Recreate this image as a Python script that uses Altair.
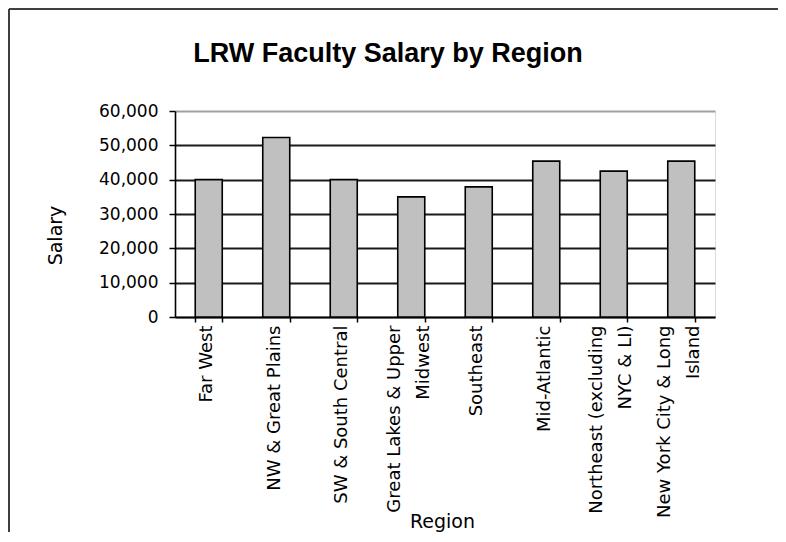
import altair as alt
import pandas as pd

regions = [
    "Far West",
    "NW & Great Plains",
    "SW & South Central",
    "Great Lakes & Upper\nMidwest",
    "Southeast",
    "Mid-Atlantic",
    "Northeast (excluding\nNYC & LI)",
    "New York City & Long\nIsland",
]
salaries = [40000, 52300, 40000, 35000, 37900, 45400, 42500, 45400]
y_ticks = [0, 10000, 20000, 30000, 40000, 50000, 60000]

df = pd.DataFrame({"Region": regions, "Salary": salaries})

W, H = 540, 206
PAD = {"left": 167, "top": 103, "right": 63, "bottom": 215}
FONT = "DejaVu Sans"

bars = alt.Chart(df).mark_bar(color="#C0C0C0", stroke="black", strokeWidth=1.6).encode(
    x=alt.X(
        "Region:N",
        sort=regions,
        scale=alt.Scale(paddingInner=0.6, paddingOuter=0.3),
        axis=alt.Axis(
            title="Region",
            labelAngle=270,
            labelExpr="split(datum.label, '\\n')",
            labelLineHeight=29,
            labelFont=FONT,
            labelFontSize=18,
            labelColor="black",
            labelLimit=400,
            labelPadding=3,
            labelOffset={"condition": {"test": "indexof(datum.label, '\\n') >= 0", "value": -17}, "value": -2},
            tickBand="extent",
            tickSize=5,
            tickColor="black",
            tickWidth=1.5,
            domainColor="black",
            domainWidth=1.6,
            grid=False,
            titleFont=FONT,
            titleFontSize=19,
            titleFontWeight="normal",
            titleColor="black",
            titleX=267,
            titleY=204,
            titleAlign="center",
            titleBaseline="middle",
        ),
    ),
    y=alt.Y(
        "Salary:Q",
        scale=alt.Scale(domain=[0, 60000], nice=False),
        axis=alt.Axis(
            values=y_ticks,
            format=",.0f",
            title="Salary",
            titleFont=FONT,
            titleFontSize=19,
            titleFontWeight="normal",
            titleColor="black",
            titleAngle=270,
            titleX=-120,
            titleY=124,
            titleAlign="center",
            titleBaseline="middle",
            labelFont=FONT,
            labelFontSize=17,
            labelColor="black",
            labelPadding=11,
            tickSize=6,
            tickColor="black",
            tickWidth=1.5,
            domainColor="black",
            domainWidth=1.6,
            grid=True,
            gridColor={"condition": {"test": "datum.value >= 60000", "value": "#a0a0a0"}, "value": "#1a1a1a"},
            gridWidth=1.8,
        ),
    ),
)

border_data = alt.Data(values=[{"k": 0}])
left_border = alt.Chart(border_data).mark_rule(color="#404040", strokeWidth=2).encode(
    x=alt.value(-166), y=alt.value(-102), y2=alt.value(H + PAD["bottom"])
)
top_border = alt.Chart(border_data).mark_rule(color="#404040", strokeWidth=2).encode(
    x=alt.value(-166), x2=alt.value(W + PAD["right"]), y=alt.value(-102)
)

chart = alt.layer(bars, left_border, top_border).properties(
    width=W,
    height=H,
    padding=PAD,
    autosize=alt.AutoSizeParams(type="none"),
    title=alt.Title(
        "LRW Faculty Salary by Region",
        font="Liberation Sans",
        fontSize=27,
        fontWeight="bold",
        color="black",
        anchor="middle",
        frame="group",
        dx=-57,
        baseline="alphabetic",
        offset=0,
        dy=81,
    ),
).configure_view(stroke="#a0a0a0", strokeWidth=1.5).configure(background="white")

chart.save("out.html", embed_options={"renderer": "svg", "actions": False})
